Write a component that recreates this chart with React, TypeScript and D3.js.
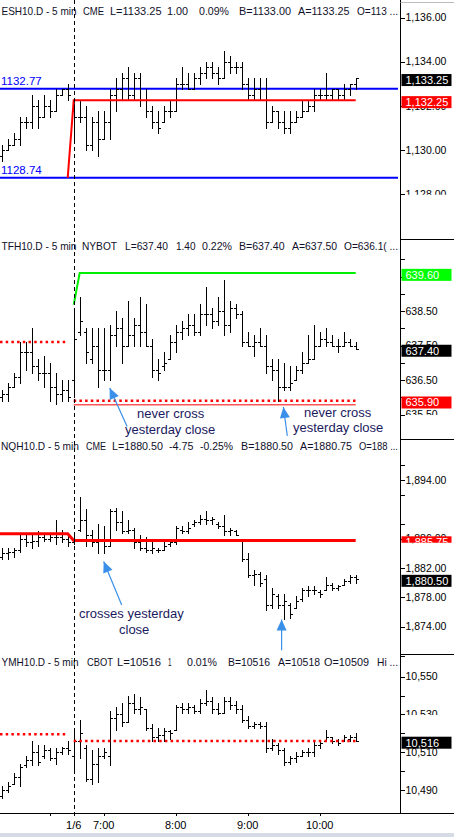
import * as d3 from "d3";

type Bar = [number, number, number, number]; // open, high, low, close
type Pt = [number, number]; // bar index, price

// ---- time axis ----
const timeLabels = ["1/6", "7:00", "8:00", "9:00", "10:00"];
const timeLabelBars = [12, 17, 29, 41, 53];
const minorTimeBars = [8];
const sessionStartBar = 12;
const barCount = 60;

// ---- ES ----
const esTitle = ["ESH10.D - 5 min", "CME", "L=1133.25", "1.00", "0.09%", "B=1133.00", "A=1133.25", "O=113 ..."];
const esBars: Bar[] = [
  [1129.75, 1130.25, 1129.5, 1130.0], [1130.0, 1130.5, 1130.0, 1130.25], [1130.25, 1130.75, 1130.25, 1130.5],
  [1130.5, 1131.5, 1130.25, 1131.25], [1131.25, 1131.5, 1131.0, 1131.25], [1131.25, 1132.5, 1131.0, 1132.0],
  [1132.0, 1132.25, 1131.0, 1131.5], [1131.5, 1132.5, 1131.5, 1132.0], [1132.0, 1132.25, 1131.5, 1131.75],
  [1131.75, 1132.75, 1131.75, 1132.5], [1132.5, 1132.75, 1132.5, 1132.75], [1132.75, 1133.0, 1132.25, 1132.5],
  [1131.75, 1132.25, 1130.5, 1131.5], [1131.5, 1132.25, 1131.25, 1131.5], [1131.5, 1132.0, 1130.0, 1130.25],
  [1130.25, 1131.5, 1130.0, 1131.25], [1131.25, 1131.75, 1129.75, 1130.5], [1130.5, 1131.75, 1130.5, 1131.25],
  [1131.25, 1132.75, 1130.5, 1132.5], [1132.5, 1133.25, 1131.75, 1132.75], [1132.75, 1133.5, 1132.25, 1133.25],
  [1133.25, 1133.75, 1132.25, 1132.5], [1132.5, 1133.5, 1132.25, 1133.25], [1133.25, 1133.5, 1132.0, 1132.25],
  [1132.25, 1132.75, 1131.5, 1131.75], [1131.75, 1132.0, 1131.0, 1131.25], [1131.25, 1131.75, 1130.75, 1131.0],
  [1131.25, 1132.0, 1131.25, 1131.75], [1131.75, 1132.25, 1131.5, 1131.75], [1131.75, 1133.25, 1131.75, 1133.0],
  [1133.0, 1133.75, 1132.75, 1133.0], [1133.0, 1133.5, 1132.75, 1132.75], [1132.75, 1133.5, 1132.75, 1133.25],
  [1133.25, 1133.75, 1133.0, 1133.5], [1133.5, 1134.0, 1133.25, 1133.75], [1133.75, 1134.0, 1133.25, 1133.5],
  [1133.5, 1133.75, 1133.0, 1133.25], [1133.25, 1134.5, 1133.25, 1134.0], [1134.0, 1134.25, 1133.5, 1133.75],
  [1133.75, 1134.0, 1133.5, 1133.75], [1133.75, 1134.0, 1132.75, 1133.0], [1133.0, 1133.25, 1132.25, 1132.5],
  [1132.5, 1133.25, 1132.25, 1132.75], [1132.75, 1133.25, 1132.25, 1132.25], [1132.25, 1133.25, 1131.0, 1131.25],
  [1131.25, 1132.0, 1131.25, 1131.75], [1131.75, 1131.75, 1131.0, 1131.25], [1131.25, 1131.75, 1130.75, 1131.0],
  [1131.0, 1131.75, 1130.75, 1131.25], [1131.25, 1131.75, 1131.25, 1131.5], [1131.5, 1132.25, 1131.5, 1131.75],
  [1131.75, 1132.25, 1131.75, 1132.0], [1132.0, 1132.75, 1131.75, 1132.5], [1132.5, 1132.75, 1132.25, 1132.5],
  [1132.5, 1133.5, 1132.25, 1132.5], [1132.5, 1132.75, 1132.25, 1132.75], [1132.75, 1132.75, 1132.25, 1132.5],
  [1132.5, 1133.0, 1132.25, 1132.75], [1132.75, 1133.0, 1132.5, 1133.0], [1133.0, 1133.25, 1132.75, 1133.25],
];
const esTicks = [1136, 1134, 1132, 1130, 1128];
const esCutTicks = [1128];
const esBands = [1132.77, 1128.74];
const esRedLine: Pt[] = [[11, 1128.74], [12, 1132.25], [59, 1132.25]];
const esLast = 1133.25;
const esRef = 1132.25;

// ---- TF ----
const tfTitle = ["TFH10.D - 5 min", "NYBOT", "L=637.40", "1.40", "0.22%", "B=637.40", "A=637.50", "O=636.1( ..."];
const tfBars: Bar[] = [
  [636.0, 636.2, 635.9, 636.1], [636.1, 636.4, 635.9, 636.3], [636.3, 636.7, 636.3, 636.6],
  [636.6, 637.6, 636.4, 637.3], [637.3, 637.6, 636.8, 637.3], [637.3, 638.0, 636.7, 636.9],
  [636.9, 637.1, 636.5, 636.7], [636.7, 637.2, 636.3, 636.7], [636.7, 637.0, 635.9, 636.3],
  [636.3, 636.7, 635.8, 636.1], [636.1, 636.5, 635.9, 636.2], [636.2, 636.5, 635.9, 636.0],
  [636.5, 638.6, 636.0, 637.7], [637.9, 638.9, 637.8, 638.2], [637.9, 638.0, 637.0, 637.3],
  [637.1, 638.0, 637.0, 637.5], [637.5, 638.0, 636.3, 636.8], [636.8, 638.0, 636.5, 636.8],
  [636.8, 638.1, 636.5, 637.8], [637.8, 638.5, 637.5, 638.0], [638.0, 638.3, 637.0, 637.5],
  [637.5, 638.8, 637.5, 637.8], [637.8, 638.3, 637.5, 638.1], [638.1, 638.9, 637.5, 637.9],
  [637.9, 638.7, 637.5, 637.5], [637.5, 637.7, 636.6, 636.8], [636.8, 637.1, 636.5, 636.7],
  [636.9, 637.3, 636.8, 637.0], [637.1, 637.8, 637.1, 637.6], [637.6, 638.1, 637.3, 637.9],
  [637.9, 638.2, 637.7, 638.0], [638.0, 638.4, 637.8, 638.1], [638.1, 638.4, 637.8, 637.9],
  [637.9, 638.7, 637.8, 638.4], [638.4, 639.2, 638.1, 638.4], [638.4, 638.6, 638.0, 638.2],
  [638.2, 638.9, 638.1, 638.5], [638.5, 639.4, 637.8, 638.1], [638.1, 638.8, 637.9, 638.6],
  [638.6, 638.7, 638.3, 638.4], [638.4, 638.5, 637.5, 637.6], [637.6, 637.9, 637.5, 637.5],
  [637.5, 637.8, 637.2, 637.6], [637.6, 638.0, 637.5, 637.5], [637.5, 637.8, 636.7, 636.9],
  [636.9, 637.1, 636.5, 636.8], [636.8, 637.1, 635.9, 636.3], [636.3, 637.0, 636.2, 636.3],
  [636.3, 636.9, 636.2, 636.4], [636.5, 636.9, 636.5, 636.8], [636.8, 637.3, 636.7, 637.0],
  [637.0, 637.8, 637.0, 637.1], [637.1, 638.1, 637.1, 637.5], [637.5, 637.9, 637.5, 637.7],
  [637.7, 638.0, 637.5, 637.6], [637.6, 637.8, 637.5, 637.5], [637.5, 637.7, 637.3, 637.5],
  [637.5, 637.9, 637.5, 637.6], [637.6, 637.7, 637.5, 637.5], [637.5, 637.6, 637.4, 637.4],
];
const tfTicks = [638.5, 637.5, 636.5, 635.5];
const tfMinorTicks = [640.0, 639.5, 639.0, 638.0, 637.0, 636.0];
const tfCutTicks = [635.5];
const tfGreenLine: Pt[] = [[12, 638.68], [13, 639.6], [59, 639.6]];
const tfPrevClose: Pt[] = [[0, 637.6], [11, 637.6]];
const tfYestClose: Pt[] = [[12, 635.9], [59, 635.9]];
const tfLowLine: Pt[] = [[12, 635.78], [59, 635.78]];
const tfHigh = 639.6;
const tfLast = 637.4;
const tfClose = 635.9;

// ---- NQ ----
const nqTitle = ["NQH10.D - 5 min", "CME", "L=1880.50", "-4.75", "-0.25%", "B=1880.50", "A=1880.75", "O=188 ..."];
const nqBars: Bar[] = [
  [1883.5, 1884.75, 1883.25, 1884.0], [1884.0, 1884.75, 1883.25, 1884.25], [1884.25, 1884.75, 1883.5, 1884.5],
  [1884.5, 1886.5, 1884.25, 1886.0], [1886.0, 1886.5, 1885.0, 1885.5], [1885.5, 1886.5, 1884.75, 1885.75],
  [1885.75, 1887.0, 1885.0, 1886.25], [1886.25, 1886.75, 1885.75, 1886.0], [1886.0, 1886.5, 1885.75, 1886.25],
  [1886.25, 1888.5, 1885.25, 1886.25], [1886.25, 1887.25, 1885.5, 1886.0], [1886.0, 1886.5, 1885.0, 1885.5],
  [1885.5, 1886.5, 1885.25, 1886.0], [1887.25, 1891.75, 1887.0, 1888.5], [1888.5, 1890.0, 1885.0, 1886.5],
  [1886.5, 1887.25, 1885.0, 1885.5], [1885.5, 1888.0, 1884.0, 1886.0], [1886.0, 1887.75, 1884.0, 1885.0],
  [1885.0, 1890.0, 1885.0, 1889.75], [1889.75, 1890.25, 1887.25, 1888.25], [1888.25, 1889.75, 1886.75, 1887.0],
  [1887.0, 1888.5, 1886.75, 1887.25], [1887.25, 1887.5, 1884.75, 1885.5], [1885.5, 1886.5, 1884.5, 1884.75],
  [1884.75, 1886.25, 1884.25, 1884.5], [1884.5, 1885.75, 1884.0, 1884.75], [1884.5, 1884.75, 1884.25, 1884.5],
  [1884.5, 1885.75, 1884.5, 1885.0], [1885.25, 1886.0, 1885.0, 1885.5], [1885.5, 1887.75, 1885.25, 1887.5],
  [1887.25, 1887.75, 1886.75, 1887.0], [1887.0, 1888.25, 1886.75, 1887.5], [1888.0, 1888.5, 1887.75, 1888.25],
  [1888.25, 1889.25, 1888.0, 1888.75], [1888.75, 1889.75, 1888.0, 1888.5], [1888.5, 1889.0, 1888.0, 1888.75],
  [1888.0, 1888.25, 1887.5, 1887.75], [1887.75, 1889.25, 1886.5, 1887.0], [1887.0, 1887.5, 1886.5, 1887.25],
  [1887.0, 1887.25, 1886.5, 1886.5], [1886.0, 1886.0, 1883.0, 1883.25], [1883.25, 1884.0, 1880.75, 1881.0],
  [1881.0, 1881.75, 1879.75, 1881.25], [1881.25, 1881.5, 1879.5, 1880.0], [1880.5, 1881.0, 1876.25, 1877.0],
  [1877.0, 1879.25, 1876.5, 1878.5], [1878.25, 1878.5, 1876.5, 1877.0], [1877.0, 1878.5, 1875.0, 1877.5],
  [1877.0, 1877.25, 1875.25, 1875.75], [1876.5, 1878.25, 1876.5, 1877.5], [1877.75, 1879.25, 1877.5, 1879.0],
  [1879.0, 1879.5, 1878.25, 1879.0], [1879.0, 1879.5, 1878.5, 1879.0], [1878.75, 1879.0, 1878.0, 1878.5],
  [1879.0, 1880.75, 1879.0, 1879.75], [1879.75, 1880.0, 1879.0, 1879.25], [1879.25, 1879.75, 1879.0, 1879.5],
  [1879.75, 1880.5, 1879.75, 1880.25], [1880.25, 1881.0, 1880.0, 1880.75], [1880.75, 1881.0, 1880.0, 1880.5],
];
const nqTicks = [1894, 1886, 1882, 1878, 1874];
const nqMinorTicks = [1896, 1892, 1888, 1870];
const nqRedLine: Pt[] = [[0, 1886.67], [11, 1886.67], [12, 1885.75], [59, 1885.75]];
const nqRef = 1885.75;
const nqLast = 1880.5;

// ---- YM ----
const ymTitle = ["YMH10.D - 5 min", "CBOT", "L=10516", "1", "0.01%", "B=10516", "A=10518", "O=10509", "Hi ..."];
const ymBars: Bar[] = [
  [10487, 10492, 10486, 10490], [10490, 10494, 10489, 10492], [10493, 10499, 10493, 10497],
  [10497, 10504, 10492, 10502], [10503, 10508, 10502, 10506], [10506, 10516, 10503, 10510],
  [10510, 10514, 10503, 10505], [10508, 10514, 10507, 10511], [10511, 10512, 10506, 10507],
  [10507, 10512, 10504, 10510], [10510, 10513, 10509, 10512], [10512, 10516, 10509, 10511],
  [10508, 10522, 10501, 10516], [10516, 10527, 10507, 10520], [10512, 10514, 10495, 10496],
  [10496, 10511, 10493, 10504], [10504, 10512, 10494, 10508], [10508, 10512, 10507, 10510],
  [10508, 10532, 10503, 10528], [10528, 10534, 10522, 10530], [10530, 10536, 10524, 10526],
  [10526, 10540, 10526, 10536], [10536, 10541, 10531, 10533], [10533, 10539, 10530, 10534],
  [10533, 10533, 10522, 10523], [10523, 10525, 10516, 10518], [10518, 10523, 10516, 10519],
  [10519, 10523, 10516, 10521], [10521, 10522, 10517, 10520], [10522, 10535, 10522, 10534],
  [10534, 10536, 10531, 10533], [10533, 10536, 10531, 10534], [10534, 10535, 10531, 10532],
  [10532, 10538, 10531, 10536], [10536, 10543, 10535, 10537], [10537, 10539, 10531, 10533],
  [10533, 10536, 10530, 10531], [10531, 10539, 10531, 10537], [10537, 10539, 10533, 10535],
  [10535, 10537, 10531, 10533], [10533, 10535, 10526, 10527], [10527, 10529, 10523, 10524],
  [10524, 10526, 10523, 10525], [10525, 10526, 10523, 10524], [10524, 10526, 10510, 10512],
  [10512, 10517, 10511, 10514], [10514, 10515, 10509, 10511], [10511, 10512, 10503, 10505],
  [10505, 10508, 10504, 10507], [10507, 10510, 10505, 10508], [10508, 10511, 10508, 10510],
  [10510, 10512, 10508, 10510], [10510, 10516, 10508, 10514], [10514, 10516, 10512, 10515],
  [10516, 10522, 10516, 10518], [10518, 10518, 10515, 10516], [10516, 10517, 10514, 10515],
  [10516, 10519, 10516, 10518], [10517, 10519, 10516, 10518], [10518, 10520, 10516, 10516],
];
const ymTicks = [10550, 10530, 10510, 10490];
const ymMinorTicks = [10540, 10520, 10500];
const ymCutTicks = [10530];
const ymPrevClose: Pt[] = [[0, 10519.5], [11, 10519.5]];
const ymYestClose: Pt[] = [[12, 10516], [59, 10516]];
const ymLast = 10516;

// ---- annotations (arrow tail -> tip, in bar index / price of their panel) ----
const tfArrows: [Pt, Pt][] = [
  [[20.9, 635.15], [18.0, 636.27]],
  [[47.6, 634.88], [46.95, 635.72]],
];
const nqArrows: [Pt, Pt][] = [
  [[20.0, 1876.96], [17.0, 1882.9]],
  [[46.65, 1870.8], [46.65, 1874.98]],
];

// ---------------------------------------------------------------------------

const W = 454;
const H = 837;
const AXIS_X = 400.5;
const FONT = "'Liberation Sans', Arial, sans-serif";
const TEXT = "#10102a";

const x = d3.scaleLinear().domain([0, barCount - 1]).range([1.7, 355.7]);
const lineX = (k: number) => (k <= 0 ? 0 : x(k));
const crispX = (k: number) => Math.round(x(k)) + 0.5;

type LineSpec = { pts: Pt[]; color: string; width: number; dash?: string };
type BoxSpec = { v: number; text: string; fill: string; cut?: boolean };

type PanelSpec = {
  id: string;
  top: number;
  titleY: number;
  title: string[];
  titleX: number[];
  titleW: number[];
  bars: Bar[];
  domain: [number, number];
  range: [number, number];
  ticks: number[];
  minorTicks: number[];
  cutTicks: number[];
  fmt: (v: number) => string;
  lines: LineSpec[];
  bands?: number[];
  boxes: BoxSpec[];
  arrows?: [Pt, Pt][];
};

const fmtES = d3.format(",.2f");
const fmtTF = d3.format(".2f");
const fmtYM = d3.format(",");
const dotted = "2.5,3.2";

const panels: PanelSpec[] = [
  {
    id: "es", top: 0, titleY: 15,
    title: esTitle,
    titleX: [1.5, 83, 110, 167, 199, 239, 298, 357],
    titleW: [75, 21, 51.5, 21, 30, 52, 51.5, 41],
    bars: esBars, domain: [1128, 1136], range: [194.2, 17.5],
    ticks: esTicks, minorTicks: [], cutTicks: esCutTicks, fmt: fmtES,
    bands: esBands,
    lines: [{ pts: esRedLine, color: "#ff0000", width: 2 }],
    boxes: [
      { v: esLast, text: fmtES(esLast), fill: "#000000" },
      { v: esRef, text: fmtES(esRef), fill: "#ff0000" },
    ],
  },
  {
    id: "tf", top: 239, titleY: 250,
    title: tfTitle,
    titleX: [1.5, 82, 125, 176, 202, 239, 292, 344],
    titleW: [75, 35, 43, 19.5, 30, 45.5, 45, 54],
    bars: tfBars, domain: [636.5, 638.5], range: [380, 311],
    ticks: tfTicks, minorTicks: tfMinorTicks, cutTicks: tfCutTicks, fmt: fmtTF,
    lines: [
      { pts: tfGreenLine, color: "#00ee00", width: 2 },
      { pts: tfPrevClose, color: "#ff0000", width: 2.5, dash: dotted },
      { pts: tfYestClose, color: "#ff0000", width: 2.5, dash: dotted },
      { pts: tfLowLine, color: "#ff0000", width: 1 },
    ],
    boxes: [
      { v: tfHigh, text: fmtTF(tfHigh), fill: "#00ff00" },
      { v: tfLast, text: fmtTF(tfLast), fill: "#000000" },
      { v: tfClose, text: fmtTF(tfClose), fill: "#ff0000" },
    ],
    arrows: tfArrows,
  },
  {
    id: "nq", top: 439, titleY: 450,
    title: nqTitle,
    titleX: [1, 86, 112, 169, 200, 241, 300, 359],
    titleW: [78, 20, 51, 24.5, 33, 52, 52, 39],
    bars: nqBars, domain: [1874, 1894], range: [626.7, 480],
    ticks: nqTicks, minorTicks: nqMinorTicks, cutTicks: [], fmt: fmtES,
    lines: [{ pts: nqRedLine, color: "#ff0000", width: 3 }],
    boxes: [
      { v: nqRef, text: fmtES(nqRef), fill: "#ff0000", cut: true },
      { v: nqLast, text: fmtES(nqLast), fill: "#000000" },
    ],
    arrows: nqArrows,
  },
  {
    id: "ym", top: 654, titleY: 665.5,
    title: ymTitle,
    titleX: [1.5, 87, 117, 168, 187, 228, 278, 324, 377],
    titleW: [77, 26, 44, 3.5, 30, 42, 42, 45, 21],
    bars: ymBars, domain: [10490, 10550], range: [790, 676.7],
    ticks: ymTicks, minorTicks: ymMinorTicks, cutTicks: ymCutTicks, fmt: fmtYM,
    lines: [
      { pts: ymPrevClose, color: "#ff0000", width: 2.5, dash: dotted },
      { pts: ymYestClose, color: "#ff0000", width: 2.5, dash: dotted },
    ],
    boxes: [{ v: ymLast, text: fmtYM(ymLast), fill: "#000000" }],
  },
];

function arrowHead(tail: [number, number], tip: [number, number]) {
  const dx = tip[0] - tail[0];
  const dy = tip[1] - tail[1];
  const len = Math.hypot(dx, dy);
  const ux = dx / len, uy = dy / len;
  const L = 11, Wd = 5;
  const bx = tip[0] - ux * L, by = tip[1] - uy * L;
  return `${tip[0]},${tip[1]} ${bx - uy * Wd},${by + ux * Wd} ${bx + uy * Wd},${by - ux * Wd}`;
}

function Panel({ p }: { p: PanelSpec }) {
  const y = d3.scaleLinear().domain(p.domain).range(p.range);
  const line = d3.line<Pt>().x((d) => lineX(d[0])).y((d) => y(d[1]));
  const crisp = (v: number) => Math.round(v) + 0.5;

  return (
    <g>
      {/* title */}
      <g fontFamily={FONT} fontSize={11.5} fill={TEXT}>
        {p.title.map((t, i) => (
          <text key={i} x={p.titleX[i]} y={p.titleY} textLength={p.titleW[i]}
            lengthAdjust="spacingAndGlyphs">{t}</text>
        ))}
      </g>

      {/* horizontal reference bands with labels (ES) */}
      {p.bands?.map((v, i) => (
        <g key={i}>
          <line x1={0} x2={398} y1={y(v)} y2={y(v)} stroke="#0000ff" strokeWidth={2} />
          <text x={1} y={y(v) - 4} fontFamily={FONT} fontSize={11.5} fill="#0000ff">{v.toFixed(2)}</text>
        </g>
      ))}

      {/* OHLC bars */}
      <g stroke="#000" strokeWidth={1} shapeRendering="crispEdges">
        {p.bars.map(([o, h, l, c], k) => {
          const xc = crisp(x(k));
          return (
            <g key={k}>
              <line x1={xc} x2={xc} y1={Math.round(y(h))} y2={Math.round(y(l)) + 1} />
              <line x1={xc - 2.5} x2={xc} y1={crisp(y(o))} y2={crisp(y(o))} />
              <line x1={xc} x2={xc + 2.5} y1={crisp(y(c))} y2={crisp(y(c))} />
            </g>
          );
        })}
      </g>

      {/* indicator lines */}
      {p.lines.map((ln, i) => (
        <path key={i} d={line(ln.pts) ?? ""} fill="none" stroke={ln.color}
          strokeWidth={ln.width} strokeDasharray={ln.dash} />
      ))}

      {/* separator in axis area */}
      {p.top > 0 && (
        <line x1={AXIS_X} x2={W} y1={p.top + 0.5} y2={p.top + 0.5} stroke="#000" />
      )}

      {/* y axis ticks */}
      <g stroke="#000" shapeRendering="crispEdges">
        {[...p.ticks, ...p.minorTicks].map((v, i) => (
          <line key={i} x1={AXIS_X} x2={AXIS_X + 4} y1={crisp(y(v))} y2={crisp(y(v))} />
        ))}
      </g>
      <defs>
        {p.cutTicks.map((v, i) => (
          <clipPath key={i} id={`${p.id}-cut-${i}`}>
            <rect x={AXIS_X} y={p.top} width={W - AXIS_X} height={y(v) + 0.5 - p.top} />
          </clipPath>
        ))}
      </defs>
      <g fontFamily={FONT} fontSize={10.5} fill="#000">
        {p.ticks.map((v, i) => {
          const ci = p.cutTicks.indexOf(v);
          return (
            <text key={i} x={AXIS_X + 5} y={y(v)} dy="0.36em"
              clipPath={ci >= 0 ? `url(#${p.id}-cut-${ci})` : undefined}>
              {p.fmt(v)}
            </text>
          );
        })}
      </g>

      {/* value boxes */}
      {p.boxes.map((b, i) => {
        const cy = y(b.v) + 1.8;
        const clipId = `${p.id}-box-${i}`;
        return (
          <g key={i} clipPath={b.cut ? `url(#${clipId})` : undefined}>
            {b.cut && (
              <defs>
                <clipPath id={clipId}>
                  <rect x={AXIS_X} y={cy - 7} width={W - AXIS_X} height={7.5} />
                </clipPath>
              </defs>
            )}
            <rect x={AXIS_X + 1} y={cy - 6} width={50} height={12} fill={b.fill} />
            <text x={AXIS_X + 5} y={cy} dy="0.36em" fontFamily={FONT} fontSize={11} fill="#fff">
              {b.text}
            </text>
          </g>
        );
      })}

      {/* arrows */}
      {p.arrows?.map(([t, h], i) => {
        const tail: [number, number] = [x(t[0]), y(t[1])];
        const tip: [number, number] = [x(h[0]), y(h[1])];
        return (
          <g key={i}>
            <line x1={tail[0]} y1={tail[1]} x2={tip[0]} y2={tip[1]} stroke="#3a8fe8" strokeWidth={1.2} />
            <polygon points={arrowHead(tail, tip)} fill="#3a8fe8" />
          </g>
        );
      })}
    </g>
  );
}

export default function App() {
  return (
    <svg width={W} height={H} style={{ position: "absolute", left: 0, top: 0, background: "#fff" }}>
      <rect width={W} height={H} fill="#fff" />
      {panels.map((p) => (
        <Panel key={p.id} p={p} />
      ))}

      {/* session start */}
      <line x1={crispX(sessionStartBar)} x2={crispX(sessionStartBar)} y1={0} y2={813}
        stroke="#000" strokeDasharray="4,3" />

      {/* price axis line, top border */}
      <line x1={AXIS_X} x2={AXIS_X} y1={0} y2={813} stroke="#000" />
      <line x1={AXIS_X} x2={W} y1={2.5} y2={2.5} stroke="#bbb" />

      {/* time axis */}
      <line x1={0} x2={W} y1={813.5} y2={813.5} stroke="#000" />
      <g stroke="#000" shapeRendering="crispEdges">
        {[...minorTimeBars, ...timeLabelBars].map((k, i) => (
          <line key={i} x1={crispX(k)} x2={crispX(k)} y1={813} y2={816} />
        ))}
      </g>
      <g fontFamily={FONT} fontSize={11} fill="#000" textAnchor="middle">
        {timeLabels.map((t, i) => (
          <text key={t} x={x(timeLabelBars[i])} y={828.5}>{t}</text>
        ))}
      </g>
      <rect x={0} y={833} width={W} height={4} fill="#d6dbe6" />

      {/* annotations */}
      <g fontFamily={FONT} fontSize={13} fill="#1a1a60">
        <text x={137} y={418}>never cross</text>
        <text x={125} y={433.5}>yesterday close</text>
        <text x={304} y={416.5}>never cross</text>
        <text x={293} y={432}>yesterday close</text>
        <text x={79} y={617.5}>crosses yesterday</text>
        <text x={119} y={633.5}>close</text>
      </g>
    </svg>
  );
}
